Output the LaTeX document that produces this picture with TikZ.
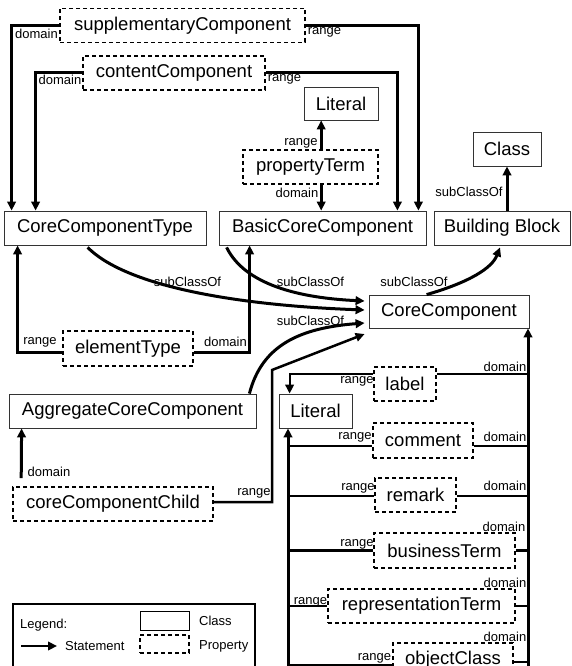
\documentclass[tikz,border=0pt]{standalone}
\usepackage{fontspec}
\setmainfont{Liberation Sans}
\usetikzlibrary{arrows.meta,calc}
\begin{document}
\begin{tikzpicture}[x=1pt,y=-1pt,
  cls/.style={draw=black!80, line width=0.8pt, inner sep=0pt, font=\fontsize{18.5}{20}\selectfont},
  prop/.style={draw, line width=1.6pt, dash pattern=on 4pt off 3pt, inner sep=0pt, font=\fontsize{18.5}{20}\selectfont},
  lbl/.style={inner sep=0pt, font=\fontsize{13}{14}\selectfont},
  arr/.style={line width=3pt, -{Triangle[length=9pt,width=8.5pt]}},
  conn/.style={line width=2.2pt},
]
\clip (0,0) rectangle (572,666);
% ---- nodes ----
\node[prop, minimum width=245pt, minimum height=34pt] (supC) at (182.5,25.5) {supplementaryComponent};
\node[prop, minimum width=182pt, minimum height=34pt] (contC) at (174,73) {contentComponent};
\node[cls, minimum width=74pt, minimum height=33pt] (litTop) at (341,103.5) {Literal};
\node[prop, minimum width=135pt, minimum height=34pt] (propT) at (310.5,167) {propertyTerm};
\node[cls, minimum width=68pt, minimum height=34pt] (Class) at (507,149) {Class};
\node[cls, minimum width=202pt, minimum height=34pt] (CCT) at (105,228) {CoreComponentType};
\node[cls, minimum width=207pt, minimum height=34pt] (BCC) at (322.5,228) {BasicCoreComponent};
\node[cls, minimum width=136pt, minimum height=34pt] (BB) at (502,228) {Building Block};
\node[cls, minimum width=160pt, minimum height=33pt] (CC) at (449,311.5) {CoreComponent};
\node[prop, minimum width=130pt, minimum height=35pt] (elT) at (128,348.5) {elementType};
\node[cls, minimum width=247pt, minimum height=34pt] (ACC) at (132.5,411) {AggregateCoreComponent};
\node[cls, minimum width=73pt, minimum height=34pt] (litMid) at (315.5,411) {Literal};
\node[prop, minimum width=62pt, minimum height=34pt] (label) at (405,384) {label};
\node[prop, minimum width=100pt, minimum height=35pt] (comment) at (423,440.5) {comment};
\node[prop, minimum width=200pt, minimum height=34pt] (cCC) at (113,504) {coreComponentChild};
\node[prop, minimum width=81pt, minimum height=34pt] (remark) at (415.5,495) {remark};
\node[prop, minimum width=141pt, minimum height=35pt] (busT) at (444.5,550.5) {businessTerm};
\node[prop, minimum width=187pt, minimum height=34pt] (repT) at (421.5,606) {representationTerm};
\node[prop, minimum width=120pt, minimum height=34pt] (objC) at (453,660) {objectClass};
% ---- trunks ----
\coordinate (RT) at (528,700);
\coordinate (LT) at (288,700);
\draw[arr] (RT) -- (RT |- CC.south);
\draw[arr] (LT) -- (LT |- litMid.south);
% ---- top properties ----
\draw[arr] (supC.west) -| ($(CCT.north west)+(8,0)$);
\draw[arr] (supC.east) -| ($(BCC.north east)+(-8,0)$);
\draw[arr] (contC.west) -| ($(CCT.north west)+(32,0)$);
\draw[arr] (contC.east) -| ($(BCC.north east)+(-29,0)$);
\coordinate (pr) at ($(propT.north west)+(79,0)$);
\coordinate (pd) at ($(propT.south west)+(79,0)$);
\draw[arr] (pr) -- (pr |- litTop.south);
\draw[arr] (pd) -- (pd |- BCC.north);
\draw[arr] (Class.south |- BB.north) -- (Class.south);
% ---- subClassOf curves ----
\draw[arr] ($(CCT.south west)+(84,2)$) .. controls (125,285) and (230,305) .. ($(CC.west)+(-4,-1.5)$);
\draw[arr] ($(BCC.south west)+(8,2)$) .. controls (245,285) and (300,298) .. ($(CC.west)+(-4,-10.5)$);
\draw[arr] ($(ACC.north east)+(-7,0)$) .. controls (262,345) and (300,328) .. ($(CC.west)+(-4,11.5)$);
\draw[arr] ($(CC.north west)+(58,0)$) .. controls (470,282) and (492,268) .. ($(BB.south)+(-2,2)$);
% ---- elementType ----
\draw[arr] ($(elT.west)+(0,3.5)$) -| ($(CCT.south west)+(14,0)$);
\draw[arr] ($(elT.east)+(0,3.5)$) -| ($(BCC.south west)+(31,0)$);
% ---- coreComponentChild ----
\draw[arr] ($(cCC.north west)+(9,-8)$) -- ($(ACC.south west)+(13,0)$);
\coordinate (k1) at (272,370);
\draw[arr, line width=2.5pt] ($(cCC.east)+(0,-2)$) -| (k1) -- ($(CC.west)+(-4,22.5)$);
% ---- right side properties ----
\coordinate (la) at ($(label.north east)+(0,8)$);
\coordinate (lb) at ($(label.north west)+(0,8)$);
\draw[conn] (la) -- (la -| RT);
\draw[arr, line width=2.2pt] (lb) -| ($(litMid.north west)+(11,0)$);
\coordinate (ca) at ($(comment.east)+(0,5.5)$);
\coordinate (cb) at ($(comment.west)+(0,5.5)$);
\draw[conn] (ca) -- (ca -| RT);
\draw[conn] (cb) -- (cb -| LT);
\coordinate (ra) at ($(remark.east)+(0,1)$);
\coordinate (rb) at ($(remark.west)+(0,1)$);
\draw[conn] (ra) -- (ra -| RT);
\draw[conn] (rb) -- (rb -| LT);
\draw[conn] (busT.east) -- (busT.east -| RT);
\draw[conn] (busT.west) -- (busT.west -| LT);
\draw[conn] (repT.east) -- (repT.east -| RT);
\draw[conn] (repT.west) -- (repT.west -| LT);
\coordinate (oa) at ($(objC.east)+(0,2)$);
\coordinate (ob) at ($(objC.west)+(0,5)$);
\draw[conn] (oa) -- (oa -| RT);
\draw[conn] (ob) -- (ob -| LT);
% ---- small labels ----
\node[lbl] (t1) at (36.5,34) {domain};
\node[lbl] (t2) at (324.5,32) {range};
\node[lbl] (t3) at (60,80) {domain};
\node[lbl] (t4) at (284.5,79) {range};
\node[lbl] (t5) at (301,143) {range};
\node[lbl] (t6) at (297,193) {domain};
\node[lbl] (t7) at (469,192) {subClassOf};
\node[lbl] (t8) at (187.5,282) {subClassOf};
\node[lbl] (t9) at (310.5,282) {subClassOf};
\node[lbl] (t10) at (414,282) {subClassOf};
\node[lbl] (t11) at (310.5,321) {subClassOf};
\node[lbl] (t12) at (40,342) {range};
\node[lbl] (t13) at (225.5,342) {domain};
\node[lbl] (t14) at (49,472) {domain};
\node[lbl] (t15) at (254,493) {range};
\node[lbl] (t16) at (357,381) {range};
\node[lbl] (t17) at (505,367) {domain};
\node[lbl] (t18) at (355,437) {range};
\node[lbl] (t19) at (505,437) {domain};
\node[lbl] (t20) at (358,488) {range};
\node[lbl] (t21) at (505,486) {domain};
\node[lbl] (t22) at (357,544) {range};
\node[lbl] (t23) at (504,527) {domain};
\node[lbl] (t24) at (310.5,602) {range};
\node[lbl] (t25) at (505,583) {domain};
\node[lbl] (t26) at (374.5,658) {range};
\node[lbl] (t27) at (505,637) {domain};
% ---- legend ----
\draw[line width=1.6pt] (13,604) rectangle (255,700);
\node[lbl, anchor=west] (lg) at (20,625) {Legend:};
\node[draw, line width=0.8pt, minimum width=49pt, minimum height=19pt, inner sep=0pt] (lgc) at (164.5,620.5) {};
\node[lbl, anchor=west] (lgct) at (199,621) {Class};
\node[prop, minimum width=49pt, minimum height=18pt] (lgp) at (164.5,644) {};
\node[lbl, anchor=west] (lgpt) at (199,646) {Property};
\coordinate (sa) at (21,646);
\coordinate (sb) at (57,646);
\draw[arr, line width=2.5pt] (sa) -- (sb);
\node[lbl, anchor=west] (lgst) at (65,646) {Statement};
\end{tikzpicture}
\end{document}
